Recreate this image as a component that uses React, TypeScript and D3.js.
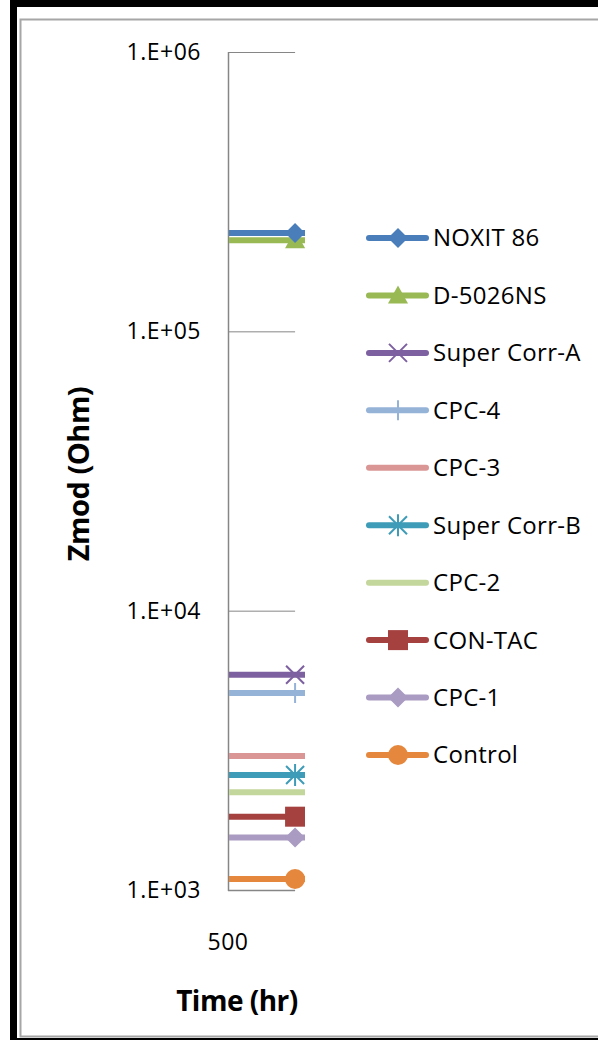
import { useEffect, useRef } from 'react';
import * as d3 from 'd3';

// series names, in legend order
const seriesNames = [
  'NOXIT 86', 'D-5026NS', 'Super Corr-A', 'CPC-4', 'CPC-3',
  'Super Corr-B', 'CPC-2', 'CON-TAC', 'CPC-1', 'Control',
];
// Zmod (Ohm) per series at the measured time
const zmodValues = [225000, 212000, 5900, 5070, 3020, 2580, 2240, 1830, 1540, 1095];
const seriesColors = [
  '#4A7EBB', '#98B954', '#7D60A0', '#95B3D7', '#D99694',
  '#3E9CB8', '#C3D69B', '#A5413F', '#A99BC2', '#E5883E',
];
const seriesMarkers = [
  'diamond', 'triangle', 'x', 'plus', 'none',
  'star', 'none', 'square', 'diamond', 'circle',
];
const measureTime = 672;
const xTicks = [500];
const yTicks = [1e3, 1e4, 1e5, 1e6];

const W = 598;
const H = 1040;

function drawMarker(g: d3.Selection<SVGGElement, unknown, null, undefined>, kind: string, color: string, cx: number, cy: number) {
  if (kind === 'diamond') {
    g.append('path').attr('d', `M${cx},${cy - 10}L${cx + 10},${cy}L${cx},${cy + 10}L${cx - 10},${cy}Z`).attr('fill', color);
  } else if (kind === 'triangle') {
    g.append('path').attr('d', `M${cx},${cy - 10}L${cx + 10},${cy + 8}L${cx - 10},${cy + 8}Z`).attr('fill', color);
  } else if (kind === 'square') {
    g.append('rect').attr('x', cx - 10).attr('y', cy - 10).attr('width', 20).attr('height', 20).attr('fill', color);
  } else if (kind === 'circle') {
    g.append('circle').attr('cx', cx).attr('cy', cy).attr('r', 10).attr('fill', color);
  } else if (kind === 'x') {
    g.append('path').attr('d', `M${cx - 9},${cy - 9}L${cx + 9},${cy + 9}M${cx + 9},${cy - 9}L${cx - 9},${cy + 9}`)
      .attr('stroke', color).attr('stroke-width', 2);
  } else if (kind === 'plus') {
    g.append('path').attr('d', `M${cx},${cy - 10}L${cx},${cy + 10}M${cx - 10},${cy}L${cx + 10},${cy}`)
      .attr('stroke', color).attr('stroke-width', 2);
  } else if (kind === 'star') {
    g.append('path').attr('d', `M${cx - 9},${cy - 9}L${cx + 9},${cy + 9}M${cx + 9},${cy - 9}L${cx - 9},${cy + 9}M${cx},${cy - 11}L${cx},${cy + 11}`)
      .attr('stroke', color).attr('stroke-width', 2);
  }
}

export default function App() {
  const svgRef = useRef<SVGSVGElement>(null);

  useEffect(() => {
    if (!svgRef.current) return;
    const svg = d3.select(svgRef.current);
    svg.selectAll('*').remove();

    const font = '"Open Sans", Lato, sans-serif';

    // frame
    svg.append('rect').attr('x', 0).attr('y', 0).attr('width', W).attr('height', H).attr('fill', '#fff');
    svg.append('rect').attr('x', 10).attr('y', 0).attr('width', W - 10).attr('height', 7).attr('fill', '#000');
    svg.append('rect').attr('x', 10).attr('y', 0).attr('width', 7).attr('height', H).attr('fill', '#000');
    svg.append('rect').attr('x', 10).attr('y', H - 2).attr('width', W - 10).attr('height', 2).attr('fill', '#000');
    svg.append('path').attr('d', `M${W},19.5H20.5V${H - 3.5}H${W}`)
      .attr('fill', 'none').attr('stroke', '#a6a6a6').attr('stroke-width', 2);

    const x = d3.scaleLinear().domain([500, 700]).range([228, 306]);
    const y = d3.scaleLog().domain([1e3, 1e6]).range([890, 52]);
    const clipRight = 305;

    // gridlines
    svg.append('g').selectAll('line').data(yTicks.slice(1)).enter().append('line')
      .attr('x1', x(500)).attr('x2', x(measureTime))
      .attr('y1', d => y(d) + 0.5).attr('y2', d => y(d) + 0.5)
      .attr('stroke', '#868686').attr('stroke-width', 1);

    // axes lines
    svg.append('line').attr('x1', x(500) + 0.5).attr('x2', x(500) + 0.5)
      .attr('y1', y(1e6)).attr('y2', y(1e3) + 1).attr('stroke', '#868686').attr('stroke-width', 1.5);
    svg.append('line').attr('x1', x(500)).attr('x2', x(measureTime))
      .attr('y1', y(1e3) + 0.5).attr('y2', y(1e3) + 0.5).attr('stroke', '#868686').attr('stroke-width', 1.5);

    // y tick labels
    svg.append('g').selectAll('text').data(yTicks).enter().append('text')
      .attr('x', 201).attr('y', d => y(d)).attr('dy', '0.35em')
      .attr('text-anchor', 'end').attr('font-family', font).attr('font-size', 23).attr('fill', '#000')
      .attr('letter-spacing', 0.5)
      .text(d => `1.E+0${Math.round(Math.log10(d))}`);

    // x tick labels
    svg.append('g').selectAll('text').data(xTicks).enter().append('text')
      .attr('x', d => x(d)).attr('y', 950)
      .attr('text-anchor', 'middle').attr('font-family', font).attr('font-size', 23).attr('fill', '#000')
      .attr('letter-spacing', 0.5)
      .text(d => String(d));

    // axis titles
    svg.append('text').attr('x', 237).attr('y', 1011).attr('text-anchor', 'middle')
      .attr('font-family', font).attr('font-weight', 'bold').attr('font-size', 28).attr('letter-spacing', -0.5)
      .text('Time (hr)');
    svg.append('text').attr('transform', 'translate(89,474) rotate(-90)').attr('text-anchor', 'middle')
      .attr('font-family', font).attr('font-weight', 'bold').attr('font-size', 29).attr('letter-spacing', -0.5)
      .text('Zmod (Ohm)');

    // series (drawn bottom-up so the first series sits on top)
    const clip = svg.append('defs').append('clipPath').attr('id', 'plotclip');
    clip.append('rect').attr('x', x(500)).attr('y', 0).attr('width', clipRight - x(500)).attr('height', H);
    const plot = svg.append('g').attr('clip-path', 'url(#plotclip)');
    d3.range(seriesNames.length).reverse().forEach(i => {
      const cy = y(zmodValues[i]);
      const g = plot.append('g');
      g.append('line').attr('x1', x(500) + 1).attr('x2', x(700)).attr('y1', cy).attr('y2', cy)
        .attr('stroke', seriesColors[i]).attr('stroke-width', 6);
      drawMarker(g, seriesMarkers[i], seriesColors[i], x(measureTime), cy);
    });

    // legend
    const legendY = d3.scalePoint<string>().domain(seriesNames).range([238, 755]);
    const leg = svg.append('g');
    seriesNames.forEach((name, i) => {
      const ly = legendY(name) as number;
      const g = leg.append('g');
      g.append('line').attr('x1', 369).attr('x2', 426).attr('y1', ly).attr('y2', ly)
        .attr('stroke', seriesColors[i]).attr('stroke-width', 6).attr('stroke-linecap', 'round');
      drawMarker(g, seriesMarkers[i], seriesColors[i], 398, ly);
      g.append('text').attr('x', 433).attr('y', ly).attr('dy', '0.35em')
        .attr('font-family', font).attr('font-size', 24).attr('fill', '#000').attr('letter-spacing', 0.3)
        .text(name);
    });
  }, []);

  return (
    <svg ref={svgRef} width={W} height={H} style={{ position: 'absolute', left: 0, top: 0 }} />
  );
}
